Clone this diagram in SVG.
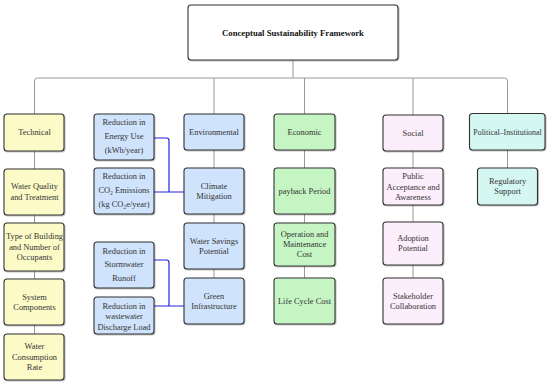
<svg xmlns="http://www.w3.org/2000/svg" width="550" height="385" viewBox="0 0 550 385">
<style>
.n rect{stroke:#333;stroke-width:1.1;filter:url(#sh)}
.n text{font-family:"Liberation Serif","Times New Roman",serif;font-size:8.4px;fill:#333;text-anchor:middle}
.t rect{fill:#fcfbc8}
.e rect{fill:#cfe3fc}
.g rect{fill:#c6f5c4}
.s rect{fill:#fdeefb}
.p rect{fill:#d5f7f2}
.gl{fill:none;stroke:#999;stroke-width:1}
.bl{fill:none;stroke:#2222dd;stroke-width:1.2}
</style>
<defs>
<filter id="sh" x="-10%" y="-10%" width="130%" height="130%">
<feDropShadow dx="0.8" dy="0.8" stdDeviation="0.5" flood-color="#000" flood-opacity="0.3"/>
</filter>
</defs>
<rect width="550" height="385" fill="#fff"/>
<g id="connectors">
<path class="gl" d="M293,60 V78"/>
<path class="gl" d="M34.5,114 V81 Q34.5,78 37.5,78 H504.5 Q507.5,78 507.5,81 V114"/>
<path class="gl" d="M214,78 V114 M304.5,78 V114 M413,78 V115"/>
<path class="gl" d="M34.5,151 V169 M34.5,215 V223 M34.5,271 V279 M34.5,325 V334"/>
<path class="gl" d="M214,150 V168 M214,214 V223 M214,269 V278"/>
<path class="gl" d="M304.5,150 V168 M304.5,214 V223 M304.5,266 V278"/>
<path class="gl" d="M413,151 V168 M413,205 V222 M413,265 V278"/>
<path class="gl" d="M507.5,150 V168"/>
<path class="bl" d="M154,138 H166.5 Q169,138 169,140.5 V192 H184 M154,192 H169"/>
<path class="bl" d="M154,260 H166.5 Q169,260 169,262.5 V306 H184 M154,306 H169"/>
</g>
<g id="root" class="n">
<rect x="188" y="5" width="210" height="55" rx="3" fill="#fff"/>
<text x="293" y="35.5" style="font-weight:bold;font-size:8.7px;fill:#111">Conceptual Sustainability Framework</text>
</g>
<g id="technical" class="n t"><rect x="4" y="114" width="60" height="37" rx="3"/><text x="34.5" y="135">Technical</text></g>
<g id="water-quality" class="n t"><rect x="4" y="169" width="60" height="46" rx="3"/><text x="34.5" y="189">Water Quality</text><text x="34.5" y="200">and Treatment</text></g>
<g id="type-building" class="n t"><rect x="4" y="223" width="60" height="48" rx="3"/><text x="34.5" y="239">Type of Building</text><text x="34.5" y="249.5">and Number of</text><text x="34.5" y="260">Occupants</text></g>
<g id="system-components" class="n t"><rect x="4" y="279" width="60" height="46" rx="3"/><text x="34.5" y="299.5">System</text><text x="34.5" y="310">Components</text></g>
<g id="water-consumption" class="n t"><rect x="4" y="334" width="60" height="46" rx="3"/><text x="34.5" y="349">Water</text><text x="34.5" y="359.5">Consumption</text><text x="34.5" y="370">Rate</text></g>

<g id="energy-use" class="n e"><rect x="94" y="114" width="60" height="46" rx="3"/><text x="124" y="125">Reduction in</text><text x="124" y="139">Energy Use</text><text x="124" y="152.5">(kWh/year)</text></g>
<g id="co2" class="n e"><rect x="94" y="168" width="60" height="46" rx="3"/><text x="124" y="178.5">Reduction in</text><text x="124" y="192.5">CO₂ Emissions</text><text x="124" y="206.5">(kg CO₂e/year)</text></g>
<g id="stormwater" class="n e"><rect x="94" y="242" width="60" height="46" rx="3"/><text x="124" y="253.5">Reduction in</text><text x="124" y="267">Stormwater</text><text x="124" y="280.5">Runoff</text></g>
<g id="wastewater" class="n e"><rect x="94" y="297" width="60" height="37" rx="3"/><text x="124" y="308.5">Reduction in</text><text x="124" y="319">wastewater</text><text x="124" y="329.5">Discharge Load</text></g>

<g id="environmental" class="n e"><rect x="184" y="114" width="60" height="36" rx="3"/><text x="214" y="134.5">Environmental</text></g>
<g id="climate" class="n e"><rect x="184" y="168" width="60" height="46" rx="3"/><text x="214" y="188.5">Climate</text><text x="214" y="199">Mitigation</text></g>
<g id="water-savings" class="n e"><rect x="184" y="223" width="60" height="46" rx="3"/><text x="214" y="243.5">Water Savings</text><text x="214" y="254">Potential</text></g>
<g id="green-infra" class="n e"><rect x="184" y="278" width="60" height="46" rx="3"/><text x="214" y="298.5">Green</text><text x="214" y="309">Infrastructure</text></g>

<g id="economic" class="n g"><rect x="274" y="114" width="61" height="36" rx="3"/><text x="304.5" y="134.5">Economic</text></g>
<g id="payback" class="n g"><rect x="274" y="168" width="61" height="46" rx="3"/><text x="304.5" y="193.5">payback Period</text></g>
<g id="om-cost" class="n g"><rect x="274" y="223" width="61" height="43" rx="3"/><text x="304.5" y="237">Operation and</text><text x="304.5" y="247">Maintenance</text><text x="304.5" y="257">Cost</text></g>
<g id="lcc" class="n g"><rect x="274" y="278" width="61" height="46" rx="3"/><text x="304.5" y="303.5">Life Cycle Cost</text></g>

<g id="social" class="n s"><rect x="383" y="115" width="60" height="36" rx="3"/><text x="413" y="135.5">Social</text></g>
<g id="public" class="n s"><rect x="383" y="168" width="60" height="37" rx="3"/><text x="413" y="178.5">Public</text><text x="413" y="189.5">Acceptance and</text><text x="413" y="200">Awareness</text></g>
<g id="adoption" class="n s"><rect x="383" y="222" width="60" height="43" rx="3"/><text x="413" y="240.5">Adoption</text><text x="413" y="251">Potential</text></g>
<g id="stakeholder" class="n s"><rect x="383" y="278" width="60" height="46" rx="3"/><text x="413" y="298.5">Stakeholder</text><text x="413" y="309">Collaboration</text></g>

<g id="political" class="n p"><rect x="469.5" y="113.5" width="75.5" height="36.5" rx="3"/><text x="507.5" y="134.5" style="font-size:7.9px">Political–Institutional</text></g>
<g id="regulatory" class="n p"><rect x="477.5" y="168" width="60" height="37" rx="3"/><text x="507.5" y="183.5">Regulatory</text><text x="507.5" y="194">Support</text></g>
</svg>
